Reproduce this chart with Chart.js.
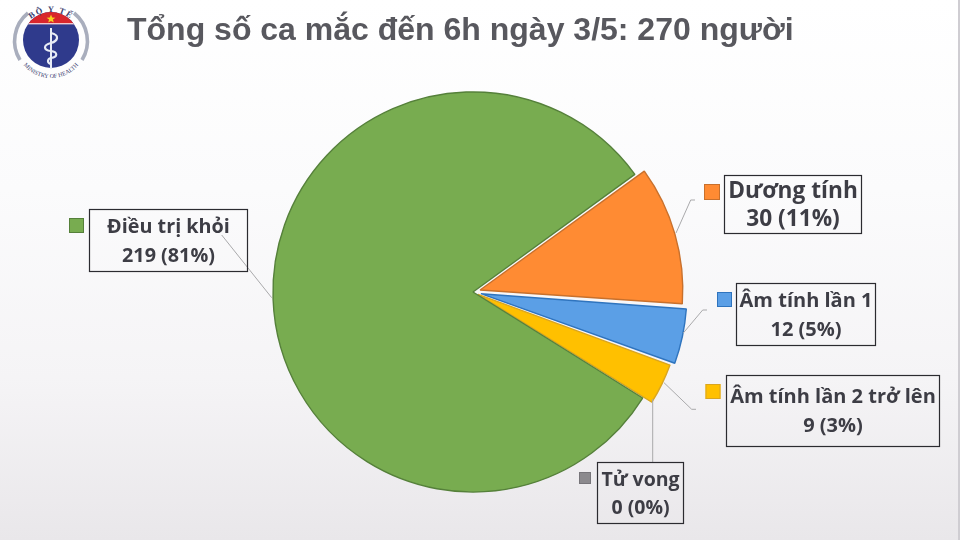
<!DOCTYPE html>
<html lang="vi">
<head>
<meta charset="utf-8">
<title>Tổng số ca mắc</title>
<script src="https://cdn.jsdelivr.net/npm/chart.js@4"></script>
<style>
html,body{margin:0;padding:0;width:960px;height:540px;overflow:hidden;background:#fff}
#stage{position:relative;width:960px;height:540px;background:linear-gradient(180deg,#ffffff 0%,#fbfbfc 35%,#f5f4f6 70%,#e9e7ea 100%)}
#stage:after{content:"";position:absolute;right:0;top:0;width:2px;height:540px;background:#cfcdd2}
canvas{position:absolute;left:0;top:0}
#logo{position:absolute;left:10px;top:0;width:82px;height:84px}
</style>
</head>
<body>
<div id="stage">
<svg id="logo" viewBox="10 0 82 84" xmlns="http://www.w3.org/2000/svg">
  <defs>
    <path id="arcTop" d="M20 42 A31 30 0 0 1 82 42"/>
    <path id="arcBot" d="M17 46 A34 32 0 0 0 85 46"/>
    <clipPath id="disc"><circle cx="51" cy="40" r="28"/></clipPath>
  </defs>
  <path d="M28 13 A36 36 0 0 0 20 60" fill="none" stroke="#a9aebd" stroke-width="3.6"/>
  <path d="M74 13 A36 36 0 0 1 82 60" fill="none" stroke="#a9aebd" stroke-width="3.6"/>
  <circle cx="51" cy="40" r="28" fill="#2f3a8c"/>
  <g clip-path="url(#disc)">
    <rect x="20" y="10" width="62" height="13" fill="#d9262c"/>
    <rect x="20" y="23" width="62" height="1.4" fill="#f3c7cc"/>
  </g>
  <polygon points="51,14.5 52.2,17.6 55.4,17.7 52.9,19.6 53.8,22.6 51,20.9 48.2,22.6 49.1,19.6 46.6,17.7 49.8,17.6" fill="#f6d21f"/>
  <line x1="51" y1="28" x2="51" y2="69" stroke="#e8ecf6" stroke-width="2"/>
  <path d="M51 33 C60 35 58 41 51 43 C43 45 43 50 51 51 C58 52 58 57 51 58 C47 59 47 63 51 64" fill="none" stroke="#e8ecf6" stroke-width="2.2"/>
  <text font-family="Liberation Serif" font-size="8.5" font-weight="700" fill="#3a4070" letter-spacing="1.5"><textPath href="#arcTop" startOffset="50%" text-anchor="middle">BỘ Y TẾ</textPath></text>
  <text font-family="Liberation Serif" font-size="6" fill="#3a4070"><textPath href="#arcBot" startOffset="50%" text-anchor="middle">MINISTRY OF HEALTH</textPath></text>
</svg>
<canvas id="chart" width="960" height="540"></canvas>
</div>
<script>
const chartTitle = "Tổng số ca mắc đến 6h ngày 3/5: 270 người";
const categories = ["Dương tính", "Âm tính lần 1", "Âm tính lần 2 trở lên", "Tử vong", "Điều trị khỏi"];
const values = [30, 12, 9, 0, 219];
const percentLabels = ["11%", "5%", "3%", "0%", "81%"];
const fillColors = ["#FF8B33", "#5B9FE6", "#FFC000", "#8C8A8E", "#78AC50"];
const edgeColors = ["#C8702C", "#2F74BE", "#D9A520", "#77757A", "#55803A"];
const sliceOffsets = [29.5, 32.5, 22.5, 0, 0];

const labelLayout = [
  {box:[724.5,175.5,137,58], key:[704,184,16], size:22.7, y:[192,220], lead:[[676,233],[690.7,200],[695,200]]},
  {box:[736.5,283.5,139,62], key:[717,292,15], size:20, y:[301,330], lead:[[683.3,333],[702.7,310],[707,310]]},
  {box:[726.5,375.5,213,71], key:[705.5,384,15], size:20, y:[397,426], lead:[[664,382.7],[691.7,409.3],[696,409.3]]},
  {box:[597.5,462.5,86,61], key:[579,472,12], size:19.5, y:[480,508], lead:[[652.7,399],[652.7,462]]},
  {box:[89.5,209.5,158,62], key:[69,218,15], size:19.8, y:[227,256], lead:[[271.7,297.7],[221.7,235]]}
];

const calloutPlugin = {
  id: "callouts",
  afterDatasetsDraw(chart) {
    const ctx = chart.ctx;
    ctx.save();
    labelLayout.forEach((l, i) => {
      ctx.beginPath();
      l.lead.forEach((p, n) => n ? ctx.lineTo(p[0], p[1]) : ctx.moveTo(p[0], p[1]));
      ctx.strokeStyle = "#a9a9ab";
      ctx.lineWidth = 1;
      ctx.stroke();
    });
    labelLayout.forEach((l, i) => {
      const [bx, by, bw, bh] = l.box;
      ctx.strokeStyle = "#2b2b30";
      ctx.lineWidth = 1.2;
      ctx.strokeRect(bx, by, bw, bh);
      const [kx, ky, ks] = l.key;
      ctx.fillStyle = fillColors[i];
      ctx.fillRect(kx, ky, ks, ks);
      ctx.strokeStyle = edgeColors[i];
      ctx.lineWidth = 1;
      ctx.strokeRect(kx + .5, ky + .5, ks - 1, ks - 1);
      ctx.fillStyle = "#3d3d45";
      ctx.textAlign = "center";
      ctx.textBaseline = "middle";
      ctx.font = "700 " + l.size + "px 'Open Sans'";
      const cx = bx + bw / 2;
      ctx.fillText(categories[i], cx, l.y[0]);
      ctx.fillText(values[i] + " (" + percentLabels[i] + ")", cx, l.y[1]);
    });
    ctx.restore();
  }
};

new Chart(document.getElementById("chart"), {
  type: "doughnut",
  data: {
    labels: categories,
    datasets: [{
      data: values,
      backgroundColor: fillColors,
      borderColor: edgeColors,
      borderWidth: 1.4,
      offset: sliceOffsets
    }]
  },
  options: {
    responsive: false,
    animation: false,
    cutout: 0,
    rotation: 54,
    layout: {padding: {left: 127, right: 141, top: 8, bottom: 31}},
    plugins: {
      legend: {display: false},
      tooltip: {enabled: false},
      title: {
        display: true,
        text: chartTitle,
        align: "start",
        color: "#58585e",
        font: {family: "'Liberation Sans'", size: 32, weight: "700"},
        padding: {top: 4, bottom: 24.6}
      }
    }
  },
  plugins: [calloutPlugin]
});
</script>
</body>
</html>
